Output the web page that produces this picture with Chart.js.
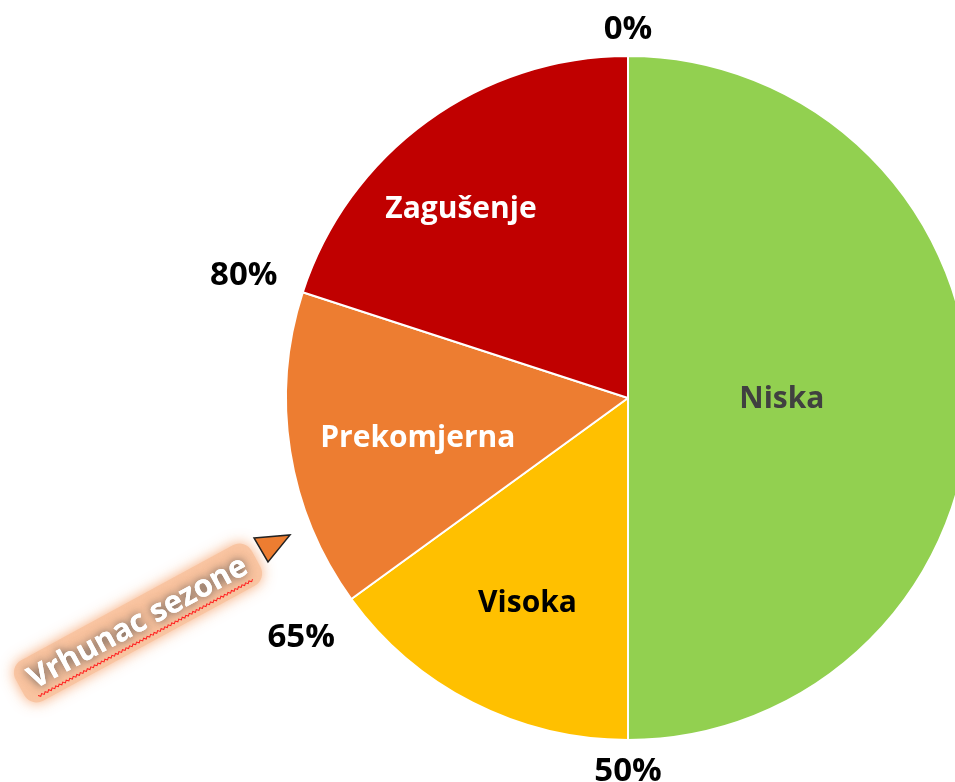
<!DOCTYPE html>
<html>
<head>
<meta charset="utf-8">
<script src="https://cdn.jsdelivr.net/npm/chart.js@4"></script>
<style>
  html, body { margin: 0; padding: 0; background: #fff; overflow: hidden; }
  #wrap { position: relative; width: 1256px; height: 782px; }
</style>
</head>
<body>
<div id="wrap"><canvas id="chart"></canvas></div>
<script>
// Kategorije i udjeli (%)
const categories = ['Niska', 'Visoka', 'Prekomjerna', 'Zagušenje'];
const shares = [50, 15, 15, 20];
const colors = ['#92D050', '#FFC000', '#ED7D31', '#C00000'];
const labelColors = ['#404040', '#000000', '#ffffff', '#ffffff'];

// granice isječaka (kumulativno) za oznake izvan kruga
const boundaries = shares.reduce((acc, v) => {
  acc.push(acc[acc.length - 1] + v);
  return acc;
}, [0]).slice(0, shares.length);
const boundaryLabels = boundaries.map(b => b + '%');

const FONT = '"Open Sans", "Noto Sans", sans-serif';

const sliceLabels = {
  id: 'sliceLabels',
  afterDatasetsDraw(chart, args, opts) {
    const { ctx } = chart;
    const meta = chart.getDatasetMeta(0);
    const total = shares.reduce((s, v) => s + v, 0);
    ctx.save();
    ctx.textAlign = 'center';
    ctx.textBaseline = 'middle';

    // nazivi unutar isječaka
    meta.data.forEach((arc, i) => {
      const mid = (arc.startAngle + arc.endAngle) / 2 + opts.shift[i] * Math.PI / 180;
      const r = arc.outerRadius * opts.radius[i];
      ctx.font = 'bold 30px ' + FONT;
      ctx.fillStyle = labelColors[i];
      ctx.fillText(categories[i], arc.x + Math.cos(mid) * r, arc.y + Math.sin(mid) * r);
    });

    // postoci na granicama
    const arc0 = meta.data[0];
    boundaries.forEach((b, i) => {
      const a = -Math.PI / 2 + b / total * Math.PI * 2;
      const r = arc0.outerRadius + opts.outside[i];
      ctx.font = 'bold 33px ' + FONT;
      ctx.fillStyle = '#000';
      ctx.fillText(boundaryLabels[i], arc0.x + Math.cos(a) * r, arc0.y + Math.sin(a) * r + 2);
    });
    ctx.restore();
  }
};

// bilješka "Vrhunac sezone"
const callout = {
  id: 'callout',
  afterDraw(chart) {
    const { ctx } = chart;
    ctx.save();
    ctx.translate(138, 623);
    ctx.rotate(-28.5 * Math.PI / 180);
    ctx.font = 'bold 31px ' + FONT;
    const w = ctx.measureText('Vrhunac sezone').width;
    const h = 46;
    ctx.shadowColor = 'rgba(244,150,90,0.9)';
    ctx.shadowBlur = 14;
    ctx.fillStyle = 'rgba(248,195,160,0.9)';
    ctx.beginPath();
    ctx.roundRect(-w / 2 - 12, -h / 2, w + 24, h, 14);
    ctx.fill();
    ctx.shadowColor = 'rgba(80,80,80,1)';
    ctx.shadowBlur = 10;
    ctx.fillStyle = '#ffffff';
    ctx.textAlign = 'center';
    ctx.textBaseline = 'middle';
    ctx.fillText('Vrhunac sezone', 0, 0);
    ctx.shadowBlur = 0;
    ctx.fillText('Vrhunac sezone', 0, 0);
    // valovita crvena linija (pravopis)
    ctx.strokeStyle = '#ff2020';
    ctx.lineWidth = 1;
    ctx.beginPath();
    let k = 0;
    for (let x = -w / 2; x <= w / 2; x += 2, k++) {
      const y = 16 + (k % 2 === 0 ? 0 : 2);
      if (k === 0) ctx.moveTo(x, y); else ctx.lineTo(x, y);
    }
    ctx.stroke();
    ctx.restore();

    // trokut
    ctx.save();
    ctx.fillStyle = '#ED7D31';
    ctx.strokeStyle = '#222';
    ctx.lineWidth = 1.5;
    ctx.beginPath();
    ctx.moveTo(254, 538);
    ctx.lineTo(290, 535);
    ctx.lineTo(268, 562);
    ctx.closePath();
    ctx.fill();
    ctx.stroke();
    ctx.restore();
  }
};

new Chart(document.getElementById('chart'), {
  type: 'pie',
  data: {
    labels: categories,
    datasets: [{
      data: shares,
      backgroundColor: colors,
      borderColor: '#ffffff',
      borderWidth: 2,
    }],
  },
  options: {
    responsive: true,
    maintainAspectRatio: false,
    animation: false,
    layout: { padding: { top: 55, bottom: 41, left: 0, right: 0 } },
    plugins: {
      legend: { display: false },
      tooltip: { enabled: false },
      sliceLabels: {
        radius: [0.45, 0.67, 0.626, 0.737],
        shift: [0.7, -1, -2, -5.5],
        outside: [28, 30, 62, 62],
      },
    },
  },
  plugins: [sliceLabels, callout],
});
</script>
</body>
</html>
